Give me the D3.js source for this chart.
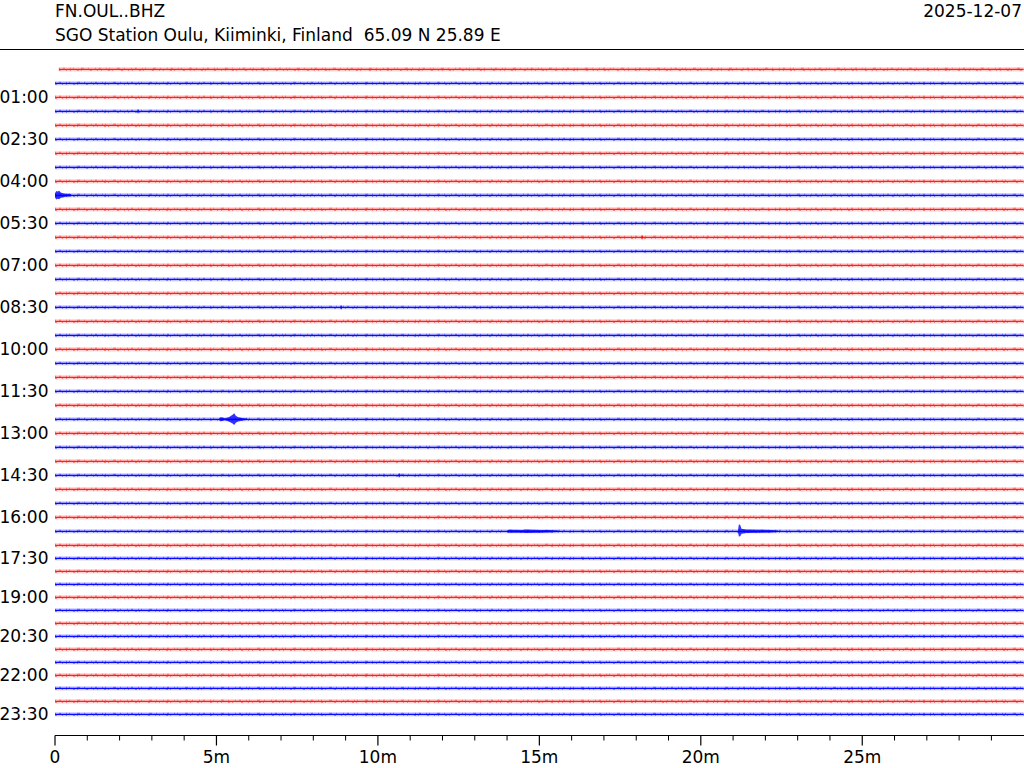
<!DOCTYPE html>
<html><head><meta charset="utf-8">
<script src="https://cdn.jsdelivr.net/npm/d3@7/dist/d3.min.js"></script>
<style>
html,body{margin:0;padding:0;background:#fff;}
svg{display:block;font-family:"DejaVu Sans",sans-serif;}
text{white-space:pre;}
</style></head>
<body>
<svg id="c" width="1024" height="768"></svg>
<script>
// ---- data ----
const stationCode = "FN.OUL..BHZ";
const stationName = "SGO Station Oulu, Kiiminki, Finland  65.09 N 25.89 E";
const dateLabel = "2025-12-07";
const rowCount = 48;                    // one row every 30 minutes
const rowColors = ["#ff0000", "#0000ff"];
const yTickRows = [2,5,8,11,14,17,20,23,26,29,32,35,38,41,44,47];
const yTickLabels = ["01:00","02:30","04:00","05:30","07:00","08:30","10:00","11:30",
                     "13:00","14:30","16:00","17:30","19:00","20:30","22:00","23:30"];
const xMajorTicks = [0,5,10,15,20,25];
const xMajorLabels = ["0","5m","10m","15m","20m","25m"];
const xMinorTicks = [1,2,3,4,6,7,8,9,11,12,13,14,16,17,18,19,21,22,23,24,26,27,28,29];
const firstRowStartMin = 0.12;
// background noise level (normalized amplitude) per row
const noiseAmp = [0.22,0.2,0.22,0.2,0.22,0.2,0.22,0.2,0.22,0.22,0.22,0.2,0.22,0.2,0.22,0.2,
                  0.22,0.2,0.22,0.2,0.22,0.2,0.22,0.2,0.22,0.2,0.22,0.2,0.22,0.2,0.22,0.2,
                  0.22,0.2,0.22,0.2,0.22,0.2,0.22,0.2,0.22,0.2,0.22,0.2,0.22,0.2,0.22,0.2];
// events: row, envelope points [minute, up, down]
const events = [
  {row: 9, env: [[0.0,0.3,0.3],[0.04,0.6,0.6],[0.08,0.55,0.5],[0.13,0.65,0.55],[0.18,0.4,0.35],
                 [0.24,0.3,0.3],[0.32,0.22,0.22],[0.5,0.18,0.18]]},
  {row: 25, env: [[5.08,0.1,0.1],[5.12,0.28,0.28],[5.18,0.25,0.25],[5.26,0.15,0.15],[5.38,0.3,0.3],
                  [5.5,0.65,0.6],[5.55,0.85,0.8],[5.6,0.5,0.5],[5.67,0.3,0.3],[5.8,0.18,0.18],[5.95,0.1,0.1]]},
  {row: 33, env: [[14.0,0.1,0.1],[14.05,0.22,0.22],[14.5,0.2,0.2],[14.55,0.26,0.26],[15.0,0.2,0.2],
                  [15.3,0.18,0.18],[15.6,0.1,0.1]]},
  {row: 33, env: [[21.15,0.1,0.1],[21.18,1.0,0.75],[21.22,0.9,0.7],[21.26,0.35,0.35],[21.4,0.25,0.25],
                  [21.8,0.22,0.22],[22.2,0.18,0.18],[22.4,0.1,0.1]]},
  {row: 3, env: [[2.55,0.1,0.1],[2.57,0.36,0.36],[2.6,0.1,0.1]]},
  {row: 17, env: [[8.83,0.1,0.1],[8.86,0.34,0.34],[8.89,0.1,0.1]]},
  {row: 12, env: [[18.15,0.1,0.1],[18.18,0.34,0.34],[18.21,0.1,0.1]]},
  {row: 29, env: [[10.63,0.1,0.1],[10.66,0.32,0.32],[10.69,0.1,0.1]]}
];

// ---- layout ----
const svg = d3.select("#c");
const x = d3.scaleLinear().domain([0, 30]).range([55, 1023.7]);
const yRow = d3.scaleLinear().domain([0, 34, 47]).range([69.3, 545.3, 714.3]);
const amp = d3.scaleLinear().domain([0, 1]).range([0, 7]);
const axisY = 735.5;
const fs = 17;

// header
svg.append("text").attr("x", 55).attr("y", 16.5).attr("font-size", fs).attr("fill", "#000").text(stationCode);
svg.append("text").attr("x", 55).attr("y", 40.5).attr("font-size", fs).attr("fill", "#000").text(stationName);
svg.append("text").attr("x", 1022).attr("y", 16.5).attr("font-size", fs).attr("text-anchor", "end").attr("fill", "#000").text(dateLabel);
svg.append("line").attr("x1", 0).attr("x2", 1024).attr("y1", 49.5).attr("y2", 49.5)
   .attr("stroke", "#000").attr("stroke-width", 1.2);

// traces
const rows = d3.range(rowCount);
const g = svg.append("g");
rows.forEach(r => {
  const col = rowColors[r % 2];
  const y0 = yRow(r);
  const xs = x(r === 0 ? firstRowStartMin : 0), xe = x(30);
  const a = amp(noiseAmp[r]);
  g.append("rect").attr("x", xs).attr("width", xe - xs)
    .attr("y", y0 - a - 0.6).attr("height", 2 * a + 1.2)
    .attr("fill", col).attr("opacity", r % 2 ? 0.22 : 0.18);
  g.append("line").attr("x1", xs).attr("x2", xe).attr("y1", y0 - a * 0.7).attr("y2", y0 - a * 0.7)
    .attr("stroke", col).attr("stroke-width", 1).attr("opacity", 0.45)
    .attr("stroke-dasharray", "1,3,2,5,1,2,1,7,3,4,1,6");
  g.append("line").attr("x1", xs).attr("x2", xe).attr("y1", y0 + a * 0.7).attr("y2", y0 + a * 0.7)
    .attr("stroke", col).attr("stroke-width", 1).attr("opacity", 0.45)
    .attr("stroke-dasharray", "2,5,1,3,1,6,2,2,1,8");
  g.append("line").attr("x1", xs).attr("x2", xe).attr("y1", y0).attr("y2", y0)
    .attr("stroke", col).attr("stroke-width", 1.3).attr("opacity", r % 2 ? 0.95 : 0.85);
});

// events
const area = d3.area().curve(d3.curveLinear);
events.forEach(ev => {
  const y0 = yRow(ev.row);
  const col = rowColors[ev.row % 2];
  g.append("path")
    .attr("d", area.x(d => x(d[0])).y0(d => y0 + amp(d[2])).y1(d => y0 - amp(d[1]))(ev.env))
    .attr("fill", col).attr("opacity", 0.8);
});

// y labels
svg.append("g").selectAll("text").data(yTickRows).join("text")
  .attr("x", 48.5).attr("y", d => yRow(d)).attr("dy", "0.36em")
  .attr("text-anchor", "end").attr("font-size", fs).attr("fill", "#000")
  .text((d, i) => yTickLabels[i]);

// x axis
const ax = svg.append("g");
ax.append("line").attr("x1", 55).attr("x2", 1024).attr("y1", axisY).attr("y2", axisY)
  .attr("stroke", "#000").attr("stroke-width", 1.2);
ax.selectAll(".maj").data(xMajorTicks).join("line").attr("class", "maj")
  .attr("x1", d => x(d)).attr("x2", d => x(d)).attr("y1", axisY).attr("y2", axisY + 10)
  .attr("stroke", "#000").attr("stroke-width", 1.2);
ax.selectAll(".min").data(xMinorTicks).join("line").attr("class", "min")
  .attr("x1", d => x(d)).attr("x2", d => x(d)).attr("y1", axisY).attr("y2", axisY + 5)
  .attr("stroke", "#000").attr("stroke-width", 1);
ax.selectAll("text").data(xMajorTicks).join("text")
  .attr("x", d => x(d)).attr("y", 763).attr("text-anchor", "middle")
  .attr("font-size", fs).attr("fill", "#000")
  .text((d, i) => xMajorLabels[i]);
</script>
</body></html>
